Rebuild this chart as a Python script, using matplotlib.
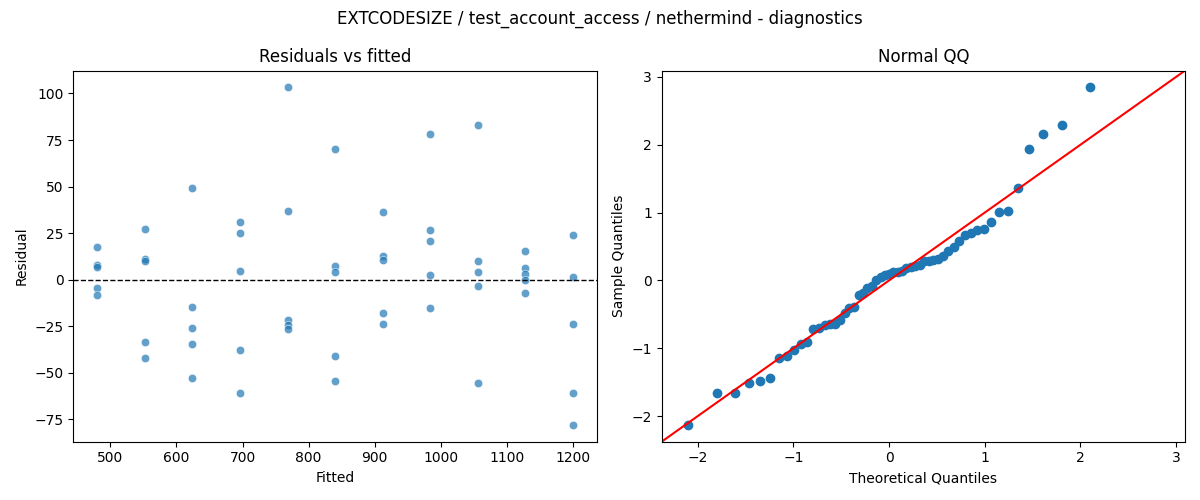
import numpy as np
import matplotlib
matplotlib.use("Agg")
import matplotlib.pyplot as plt
import seaborn as sns
from statistics import NormalDist

fitted_levels = [480, 552, 624, 696, 768, 840, 912, 984, 1056, 1128, 1200]
res_480 = [17.5, 8.0, 6.8, -4.3, -8.2]
res_552 = [27.1, 11.1, 10.0, -33.4, -42.0]
res_624 = [49.1, -14.6, -25.9, -34.5, -52.7]
res_696 = [30.9, 25.0, 4.6, -37.7, -60.7]
res_768 = [103.2, 36.8, -21.4, -24.1, -26.4]
res_840 = [70.0, 7.3, 4.1, -40.9, -54.6]
res_912 = [36.3, 12.7, 10.5, -17.9, -23.8]
res_984 = [78.2, 26.6, 20.9, 2.5, -15.2]
res_1056 = [82.9, 10.0, 4.1, -3.4, -55.4]
res_1128 = [15.5, 6.3, 3.0, -0.2, -7.1]
res_1200 = [23.9, 1.4, -23.8, -60.7, -77.9]

groups = [res_480, res_552, res_624, res_696, res_768, res_840,
          res_912, res_984, res_1056, res_1128, res_1200]
fitted = np.array([f for f, g in zip(fitted_levels, groups) for _ in g], dtype=float)
resid = np.array([r for g in groups for r in g], dtype=float)

fig, axes = plt.subplots(1, 2, figsize=(12, 5), dpi=100)

ax = axes[0]
sns.scatterplot(x=fitted, y=resid, ax=ax, alpha=0.7)
ax.axhline(0, color="black", linestyle="--", linewidth=1)
ax.set_title("Residuals vs fitted")
ax.set_xlabel("Fitted")
ax.set_ylabel("Residual")

# Normal QQ (statsmodels-style, fit=True, line='45')
ax2 = axes[1]
n = len(resid)
sample = np.sort((resid - resid.mean()) / resid.std())
nd = NormalDist()
theo = np.array([nd.inv_cdf(i / (n + 1)) for i in range(1, n + 1)])
ax2.plot(theo, sample, "o", color="C0", markeredgecolor="C0")
xlim = ax2.get_xlim()
ylim = ax2.get_ylim()
lo = min(xlim[0], ylim[0])
hi = max(xlim[1], ylim[1])
ax2.plot([lo, hi], [lo, hi], color="red")
ax2.set_xlim(lo, hi)
ax2.set_ylim(lo, hi)
ax2.set_title("Normal QQ")
ax2.set_xlabel("Theoretical Quantiles")
ax2.set_ylabel("Sample Quantiles")

fig.suptitle("EXTCODESIZE / test_account_access / nethermind - diagnostics")
fig.tight_layout()
fig.savefig("out.png")
